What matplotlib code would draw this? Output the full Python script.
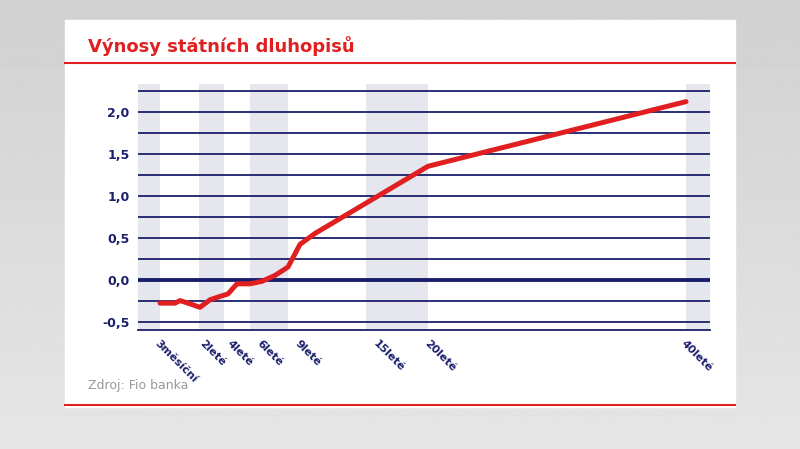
import numpy as np
import matplotlib.pyplot as plt
from matplotlib.patches import Rectangle

# maturity positions (chart units) and yields
x_vals = [160, 175, 180, 188, 200, 210, 220, 228, 237, 250, 262, 275, 288, 300, 315, 428, 686]
y_vals = [-0.28, -0.28, -0.25, -0.28, -0.33, -0.24, -0.2, -0.17, -0.05, -0.05, -0.02, 0.05, 0.15, 0.42, 0.55, 1.35, 2.12]
tick_pos = [160, 205, 232, 262, 300, 378, 430, 686]
tick_lab = ["3měsíční", "2leté", "4leté", "6leté", "9leté", "15leté", "20leté", "40leté"]
bands = [(138, 160), (199, 224), (250, 288), (366, 428), (686, 710)]

navy = "#1a1f6b"
red = "#e02020"

fig = plt.figure(figsize=(8, 4.49), dpi=100)
# grey backdrop with white card
bg = fig.add_axes([0, 0, 1, 1])
grad = np.linspace(0.82, 0.90, 256).reshape(-1, 1)
bg.imshow(grad, cmap="gray", vmin=0, vmax=1, aspect="auto", extent=[0, 1, 0, 1])
bg.add_patch(Rectangle((65/800, 1-407/449), 670/800, (407-20)/449, color="white"))
bg.plot([65/800, 735/800], [1-63/449]*2, color=red, lw=1.5)
bg.plot([65/800, 735/800], [1-405/449]*2, color=red, lw=1.5)
bg.text(88/800, 1-46/449, "Výnosy státních dluhopisů", color=red, fontsize=13, fontweight="bold", va="center")
bg.text(88/800, 1-386/449, "Zdroj: Fio banka", color="#999999", fontsize=9, va="center")
bg.set_xlim(0, 1); bg.set_ylim(0, 1); bg.axis("off")

ax = fig.add_axes([138/800, 1-330/449, (710-138)/800, (330-84)/449])
ax.set_xlim(138, 710)
ax.set_ylim(-0.6, 2.33)
for a, b in bands:
    ax.axvspan(a, b, color="#e6e6ee", lw=0)
for g in np.arange(-0.5, 2.3, 0.25):
    ax.axhline(g, color=navy, lw=2.8 if abs(g) < 1e-9 else 1.3, zorder=1)
ax.plot(x_vals, y_vals, color=red, lw=3.6, solid_capstyle="round", zorder=3)
for s in ["top", "right", "left"]:
    ax.spines[s].set_visible(False)
ax.spines["bottom"].set_color(navy)
ax.spines["bottom"].set_linewidth(1.3)
ax.set_yticks([-0.5, 0, 0.5, 1.0, 1.5, 2.0])
ax.set_yticklabels(["-0,5", "0,0", "0,5", "1,0", "1,5", "2,0"], color=navy, fontsize=9, fontweight="bold")
ax.set_xticks(tick_pos)
ax.set_xticklabels(tick_lab, rotation=-45, ha="left", va="top", rotation_mode="anchor",
                   color=navy, fontsize=8, fontweight="bold")
ax.tick_params(length=0, pad=6)
fig.savefig("out.png", dpi=100)
